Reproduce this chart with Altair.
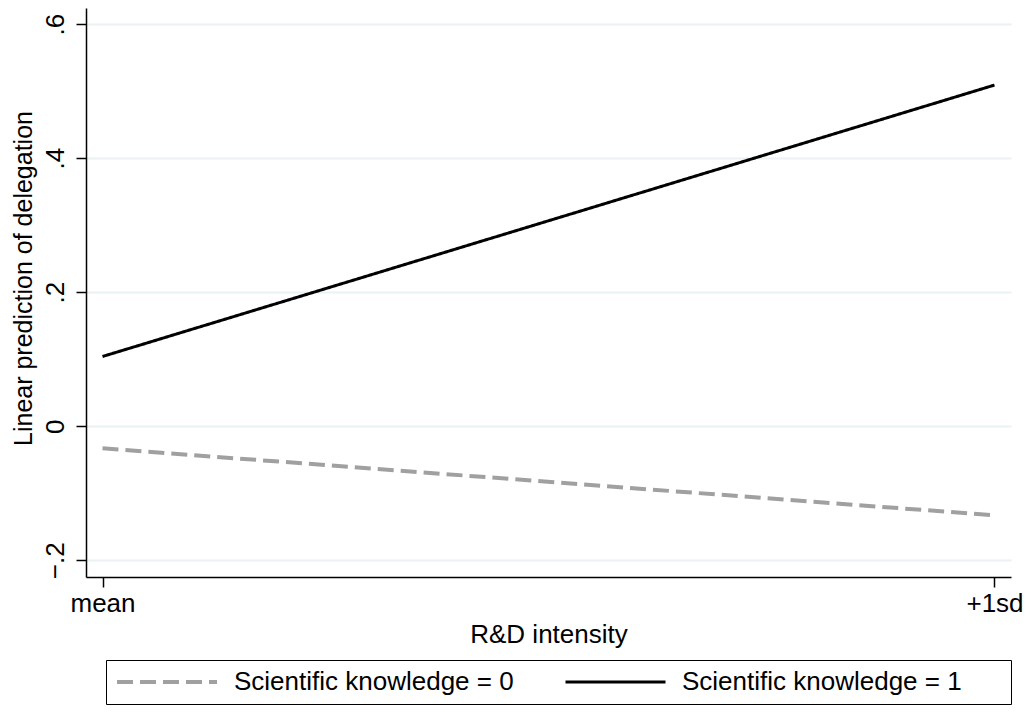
import altair as alt
import pandas as pd

# ---- data ----
x_labels = ["mean", "+1sd"]
series_names = ["Scientific knowledge = 0", "Scientific knowledge = 1"]
sk0 = [-0.033, -0.133]
sk1 = [0.104, 0.509]
y_ticks = [-0.2, 0, 0.2, 0.4, 0.6]

rows = []
for name, vals in zip(series_names, [sk0, sk1]):
    for xl, v in zip(x_labels, vals):
        rows.append({"x": xl, "y": v, "series": name})
df = pd.DataFrame(rows)

FONT = "Liberation Sans"
FS = 26

legend = alt.Legend(
    title="\u00a0",
    titleOrient="right",
    titleFontSize=1,
    titlePadding=40,
    orient="none",
    legendX=20,
    legendY=652,
    direction="horizontal",
    symbolType="stroke",
    symbolSize=10000,
    symbolStrokeWidth=3,
    clipHeight=26,
    labelFontSize=FS,
    labelFont=FONT,
    labelColor="black",
    labelOffset=15,
    columnPadding=50,
    padding=9,
    strokeColor="black",
    fillColor="white",
    cornerRadius=0,
    labelLimit=400,
)

chart = alt.Chart(df).mark_line(strokeCap="butt").encode(
    x=alt.X(
        "x:N",
        sort=x_labels,
        scale=alt.Scale(type="point", padding=0.0185),
        axis=alt.Axis(
            title="R&D intensity",
            labelAngle=0,
            labelFont=FONT,
            labelFontSize=FS,
            labelColor="black",
            labelBaseline="alphabetic",
            labelPadding=24,
            tickSize=10,
            tickColor="black",
            tickWidth=1.5,
            domainColor="black",
            domainWidth=1.5,
            grid=False,
            titleFont=FONT,
            titleFontSize=FS,
            titleFontWeight="normal",
            titleColor="black",
            titleBaseline="alphabetic",
            titleY=65,
        ),
    ),
    y=alt.Y(
        "y:Q",
        scale=alt.Scale(domain=[-0.225, 0.624], nice=False, zero=False),
        axis=alt.Axis(
            values=y_ticks,
            labelExpr="datum.value == 0 ? '0' : replace(format(datum.value, '.1f'), '0.', '.')",
            labelAngle=270,
            labelAlign="center",
            labelBaseline="alphabetic",
            labelPadding=13,
            labelFont=FONT,
            labelFontSize=FS,
            labelColor="black",
            tickSize=10,
            tickColor="black",
            tickWidth=1.5,
            domainColor="black",
            domainWidth=1.5,
            grid=True,
            gridColor="#eaf2f3",
            gridWidth=2,
            title="Linear prediction of delegation",
            titleFont=FONT,
            titleFontSize=25,
            titleFontWeight="normal",
            titleColor="black",
            titleAngle=270,
            titleAlign="center",
            titleBaseline="alphabetic",
            titleX=-55,
            titleY=270,
        ),
    ),
    color=alt.Color(
        "series:N",
        scale=alt.Scale(domain=series_names, range=["#a0a0a0", "#000000"]),
        legend=legend,
    ),
    strokeDash=alt.StrokeDash(
        "series:N",
        scale=alt.Scale(domain=series_names, range=[[16, 7], [1, 0]]),
        legend=legend,
    ),
    strokeWidth=alt.StrokeWidth(
        "series:N",
        scale=alt.Scale(domain=series_names, range=[4, 3]),
        legend=None,
    ),
).properties(
    width=925,
    height=569,
    autosize=alt.AutoSizeParams(type="none"),
    padding={"left": 78, "top": 0, "right": 12, "bottom": 128},
    background="white",
).configure_view(stroke=None)

chart.save("out.html", embed_options={"renderer": "svg", "actions": False})
